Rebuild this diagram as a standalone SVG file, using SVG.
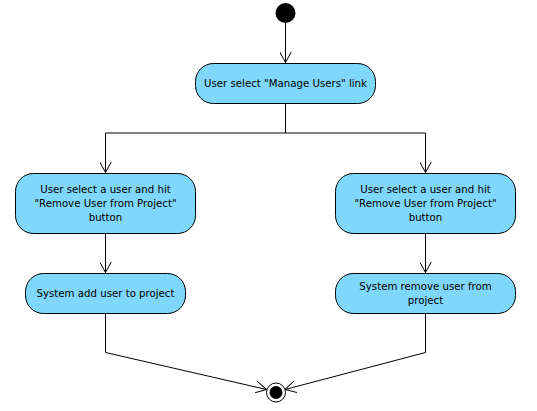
<svg xmlns="http://www.w3.org/2000/svg" width="537" height="411" viewBox="0 0 537 411">
<style>
.act{fill:#7fd7fb;stroke:#000;stroke-width:1}
.lbl{font-family:"DejaVu Sans",sans-serif;font-size:10.2px;fill:#000;text-anchor:middle}
.edge{fill:none;stroke:#000;stroke-width:1}
</style>
<defs>
<marker id="open" viewBox="0 0 12 12" refX="11" refY="6" markerWidth="12" markerHeight="12" markerUnits="userSpaceOnUse" orient="auto">
<path d="M0,0 L11,6 L0,12" fill="none" stroke="#000" stroke-width="1"/>
</marker>
</defs>
<rect width="537" height="411" fill="#fff"/>
<g id="connectors">
<path class="edge" d="M285.5,23 V62.5" marker-end="url(#open)"/>
<path class="edge" d="M285.5,103 V133 H105.5 V172.5" marker-end="url(#open)"/>
<path class="edge" d="M285.5,133 H425.5 V172.5" marker-end="url(#open)"/>
<path class="edge" d="M105.5,233 V272.5" marker-end="url(#open)"/>
<path class="edge" d="M425.5,233 V272.5" marker-end="url(#open)"/>
<path class="edge" d="M105.5,313 V352.5 L266.5,389.5" marker-end="url(#open)"/>
<path class="edge" d="M425.5,313 V352.5 L285,389.5" marker-end="url(#open)"/>
</g>
<g id="start"><circle cx="285.5" cy="13" r="10" fill="#000"/></g>
<g id="manage">
<rect class="act" x="195.5" y="63.5" width="180" height="40" rx="18"/>
<text class="lbl" x="285.5" y="87">User select "Manage Users" link</text>
</g>
<g id="selectLeft">
<rect class="act" x="15.5" y="173.5" width="180" height="60" rx="18"/>
<text class="lbl" x="105.5" y="193">User select a user and hit</text>
<text class="lbl" x="105.5" y="207">"Remove User from Project"</text>
<text class="lbl" x="105.5" y="221">button</text>
</g>
<g id="selectRight">
<rect class="act" x="335.5" y="173.5" width="180" height="60" rx="18"/>
<text class="lbl" x="425.5" y="193">User select a user and hit</text>
<text class="lbl" x="425.5" y="207">"Remove User from Project"</text>
<text class="lbl" x="425.5" y="221">button</text>
</g>
<g id="addUser">
<rect class="act" x="25.5" y="273.5" width="160" height="40" rx="18"/>
<text class="lbl" x="105.5" y="297">System add user to project</text>
</g>
<g id="removeUser">
<rect class="act" x="335.5" y="273.5" width="180" height="40" rx="18"/>
<text class="lbl" x="425.5" y="290">System remove user from</text>
<text class="lbl" x="425.5" y="304">project</text>
</g>
<g id="end">
<circle cx="276" cy="392.5" r="9.5" fill="#fff" stroke="#000" stroke-width="1"/>
<circle cx="276" cy="392.5" r="6.5" fill="#000"/>
</g>
</svg>
